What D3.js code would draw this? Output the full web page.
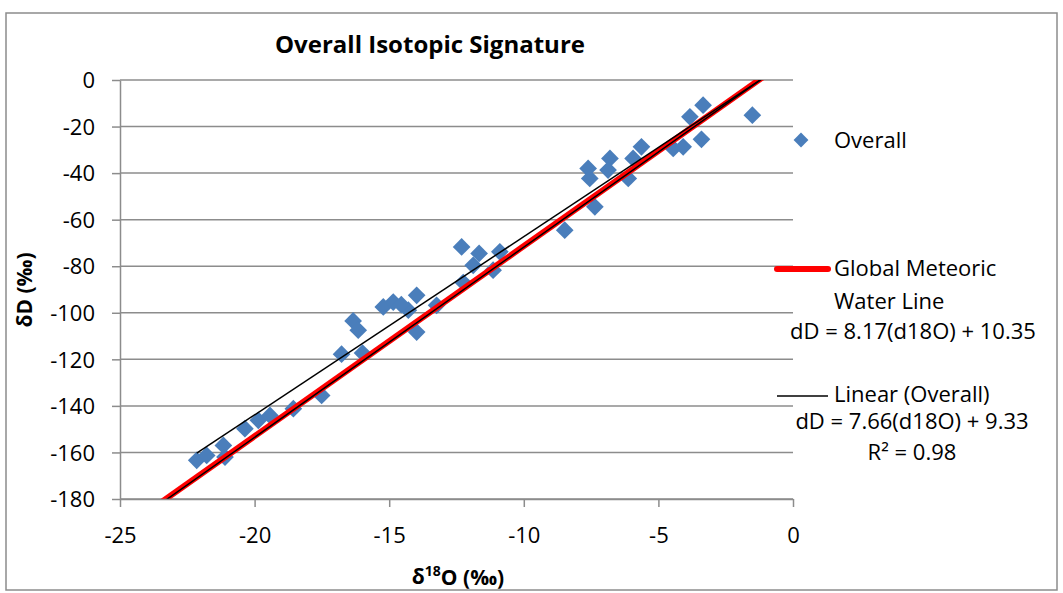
<!DOCTYPE html>
<html>
<head>
<meta charset="utf-8">
<script src="https://cdn.jsdelivr.net/npm/d3@7"></script>
<style>
  body { margin: 0; background: #fff; }
  svg text { font-family: 'Open Sans', 'Noto Sans', sans-serif; fill: #000; }
</style>
</head>
<body>
<div id="chart"></div>
<script>
// Overall samples, d18O (x) and dD (y)
const overallX = [-22.15, -21.78, -21.16, -21.10, -20.36, -19.86, -19.43, -18.56, -17.51,
  -16.77, -15.99, -16.34, -16.15, -15.22, -14.85, -14.29, -14.55, -13.98, -13.98, -13.24, -12.25,
  -12.31, -11.66, -10.89, -11.88, -11.14,
  -8.48, -7.36, -7.61, -7.55, -6.80, -6.87, -6.12, -5.94, -5.63, -4.45, -4.08, -3.83, -3.34, -3.40, -1.51]
const overallY = [-163.4, -161.3, -157.0, -162.0, -149.8, -146.2, -144.1, -141.2, -135.5,
  -117.8, -117.3, -103.5, -107.5, -97.5, -95.4, -98.9, -96.5, -92.5, -108.3, -96.8, -87.0,
  -71.7, -74.5, -73.8, -79.6, -81.7,
  -64.5, -54.5, -38.0, -42.3, -33.7, -38.7, -42.3, -33.7, -28.7, -29.4, -28.7, -15.8, -10.8, -25.5, -15.1]

// line equations as printed on the chart
const gmwl = { slope: 8.17, intercept: 10.35 }
const fitOverall = { slope: 7.66, intercept: 9.33 }

const xTicks = [-25, -20, -15, -10, -5, 0]
const yTicks = [0, -20, -40, -60, -80, -100, -120, -140, -160, -180]

const width = 1063
const height = 593
const plot = { left: 120, right: 793, top: 80, bottom: 499 }
const gridColor = '#8c8c8c'

const dataset = overallX.map((x, i) => ({ x: x, y: overallY[i] }))

const xScale = d3.scaleLinear().domain([-25, 0]).range([plot.left, plot.right])
const yScale = d3.scaleLinear().domain([-180, 0]).range([plot.bottom, plot.top])

const svg = d3.select('#chart')
    .append('svg')
    .attr('width', width)
    .attr('height', height)

svg.append('rect')
    .attr('width', width).attr('height', height)
    .attr('fill', '#fff')

// chart border
svg.append('rect')
    .attr('x', 6).attr('y', 13)
    .attr('width', 1051).attr('height', 577)
    .attr('fill', 'none')
    .attr('stroke', gridColor)
    .attr('stroke-width', 1.5)

// Title
svg.append('text')
    .attr('x', 430)
    .attr('y', 45)
    .attr('dy', '0.35em')
    .attr('text-anchor', 'middle')
    .attr('font-weight', 'bold')
    .attr('font-size', 24)
    .text('Overall Isotopic Signature')

// Gridlines
svg.append('g')
    .selectAll('line')
    .data(yTicks)
    .enter()
    .append('line')
    .attr('x1', plot.left).attr('x2', plot.right)
    .attr('y1', d => yScale(d)).attr('y2', d => yScale(d))
    .attr('stroke', gridColor)
    .attr('stroke-width', 1.5)

// Axes
const yAxis = d3.axisLeft(yScale)
    .tickValues(yTicks)
    .tickFormat(d => String(d))
    .tickSize(8)
    .tickPadding(17)
    .tickSizeOuter(0)
const yG = svg.append('g')
    .attr('transform', 'translate(' + plot.left + ',0)')
    .call(yAxis)

const xAxis = d3.axisBottom(xScale)
    .tickValues(xTicks)
    .tickFormat(d => String(d))
    .tickSize(8)
    .tickSizeOuter(0)
const xG = svg.append('g')
    .attr('transform', 'translate(0,' + plot.bottom + ')')
    .call(xAxis)

svg.selectAll('.domain, .tick line')
    .attr('stroke', gridColor)
    .attr('stroke-width', 1.5)
svg.selectAll('.tick text')
    .attr('font-size', 22)
    .attr('font-family', "'Open Sans', sans-serif")
    .attr('fill', '#000')
yG.selectAll('.tick text').attr('dy', '0.35em')
xG.selectAll('.tick text').attr('y', 36).attr('dy', '0.35em')

// Axis titles
const xTitle = svg.append('text')
    .attr('x', 458)
    .attr('y', 577)
    .attr('dy', '0.35em')
    .attr('text-anchor', 'middle')
    .attr('font-weight', 'bold')
    .attr('font-size', 21)
xTitle.append('tspan').text('δ')
xTitle.append('tspan').attr('font-size', 14).attr('dy', '-0.6em').text('18')
xTitle.append('tspan').attr('dy', '0.42em').text('O (‰)')

svg.append('text')
    .attr('transform', 'translate(25,290) rotate(-90)')
    .attr('dy', '0.35em')
    .attr('text-anchor', 'middle')
    .attr('font-weight', 'bold')
    .attr('font-size', 21)
    .text('δD (‰)')

// Plot data
svg.append('clipPath')
    .attr('id', 'plot-clip')
    .append('rect')
    .attr('x', plot.left).attr('y', plot.top)
    .attr('width', plot.right - plot.left)
    .attr('height', plot.bottom - plot.top)

const diamond = d3.symbol().type(d3.symbolDiamond2).size(200)

svg.append('g')
    .selectAll('path')
    .data(dataset)
    .enter()
    .append('path')
    .attr('class', 'dot')
    .attr('d', diamond)
    .attr('transform', d => 'translate(' + xScale(d.x) + ',' + yScale(d.y) + ')')
    .attr('fill', '#4a7ebb')

const lineGen = d3.line().x(d => xScale(d[0])).y(d => yScale(d[1]))
const eqPoints = (eq, x0, x1) => [[x0, eq.slope * x0 + eq.intercept], [x1, eq.slope * x1 + eq.intercept]]

const lines = svg.append('g').attr('clip-path', 'url(#plot-clip)')

// Global meteoric water line
lines.append('path')
    .attr('d', lineGen(eqPoints(gmwl, -25, 0)))
    .attr('stroke', '#ff0000')
    .attr('stroke-width', 6)
    .attr('fill', 'none')
lines.append('path')
    .attr('d', lineGen(eqPoints(gmwl, -25, 0)))
    .attr('transform', 'translate(1.5,0)')
    .attr('stroke', '#000')
    .attr('stroke-width', 1.5)
    .attr('fill', 'none')

// Linear (Overall) trendline
lines.append('path')
    .attr('d', lineGen(eqPoints(fitOverall, d3.min(overallX), 0)))
    .attr('stroke', '#000')
    .attr('stroke-width', 1.5)
    .attr('fill', 'none')

// Legend
const legend = svg.append('g').attr('font-size', 22)

legend.append('path')
    .attr('d', d3.symbol().type(d3.symbolDiamond2).size(140))
    .attr('transform', 'translate(801,140)')
    .attr('fill', '#4a7ebb')
legend.append('text').attr('x', 834).attr('y', 140).attr('dy', '0.35em').text('Overall')

legend.append('line')
    .attr('x1', 777).attr('x2', 828).attr('y1', 269).attr('y2', 269)
    .attr('stroke', '#ff0000').attr('stroke-width', 6).attr('stroke-linecap', 'round')
legend.append('text').attr('x', 834).attr('y', 268).attr('dy', '0.35em').text('Global Meteoric')
legend.append('text').attr('x', 834).attr('y', 301).attr('dy', '0.35em').text('Water Line')
legend.append('text').attr('x', 913).attr('y', 331).attr('dy', '0.35em')
    .attr('text-anchor', 'middle').text('dD = 8.17(d18O) + 10.35')

legend.append('line')
    .attr('x1', 777).attr('x2', 828).attr('y1', 396).attr('y2', 396)
    .attr('stroke', '#000').attr('stroke-width', 1.5)
legend.append('text').attr('x', 834).attr('y', 394).attr('dy', '0.35em').text('Linear (Overall)')
legend.append('text').attr('x', 912).attr('y', 421).attr('dy', '0.35em')
    .attr('text-anchor', 'middle').text('dD = 7.66(d18O) + 9.33')
legend.append('text').attr('x', 912).attr('y', 452).attr('dy', '0.35em')
    .attr('text-anchor', 'middle').text('R² = 0.98')

// Move axes to foreground
yG.raise()
xG.raise()
</script>
</body>
</html>
